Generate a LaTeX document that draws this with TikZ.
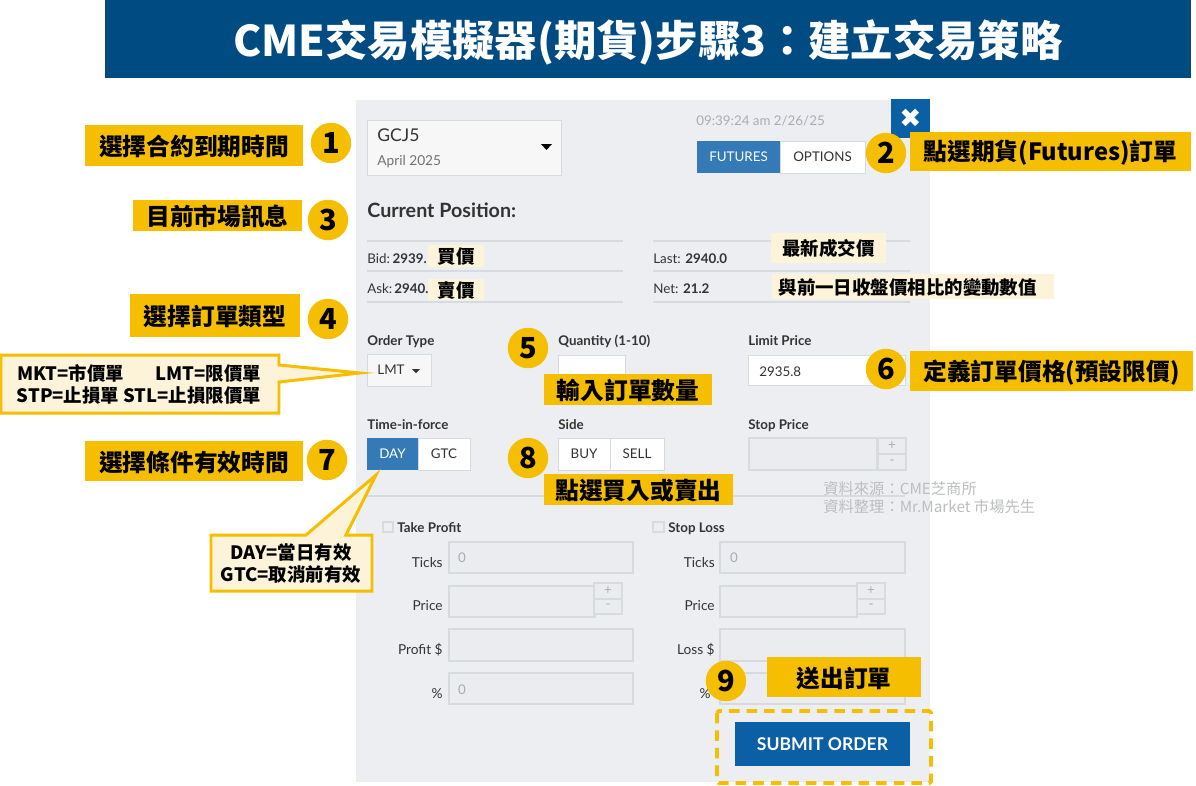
\documentclass[tikz,border=0pt]{standalone}
\usepackage{fontspec}
\setmainfont{Noto Sans CJK TC}
\newfontfamily\uifont{Lato}
\newfontfamily\symfont{DejaVu Sans}
\usepackage{tikz}
\definecolor{barblue}{HTML}{004B82}
\definecolor{panelgray}{HTML}{ECEEF1}
\definecolor{fieldgray}{HTML}{EAECEF}
\definecolor{tagyellow}{HTML}{F5BE00}
\definecolor{palecream}{HTML}{FDF3D9}
\definecolor{btnblue}{HTML}{337AB7}
\definecolor{submitblue}{HTML}{0B5FA5}
\definecolor{rulegray}{HTML}{D8DBDE}
\definecolor{uitext}{HTML}{333333}
\definecolor{mutetext}{HTML}{A9ADB2}
\definecolor{wmgray}{HTML}{BBBDBF}
\tikzset{
  tagtext/.style={font=\fontsize{13.5pt}{16pt}\selectfont\bfseries,text=black,inner sep=0pt,yshift=-0.8pt},
  paletext/.style={font=\fontsize{10.5pt}{12.5pt}\selectfont\bfseries,text=black,inner sep=0pt,yshift=-0.4pt},
  numcircle/.style={circle,fill=tagyellow,minimum size=23pt,inner sep=0pt,font=\fontsize{16.5pt}{18pt}\selectfont\bfseries,text=black},
  uilabel/.style={font=\uifont\fontsize{7.6pt}{9pt}\selectfont,text=uitext,inner sep=0pt,anchor=west,text height=7pt,text depth=1pt},
  uibold/.style={font=\uifont\bfseries\fontsize{7.6pt}{9pt}\selectfont,text=uitext,inner sep=0pt,anchor=west,text height=7pt,text depth=1pt},
  sidelabel/.style={font=\uifont\fontsize{7.8pt}{9pt}\selectfont,text=uitext,inner sep=0pt,anchor=east,text height=7pt,text depth=1pt},
  btntext/.style={font=\uifont\fontsize{7.6pt}{9pt}\selectfont,text=uitext,inner sep=0pt},
  btnwhite/.style={font=\uifont\fontsize{7.6pt}{9pt}\selectfont,text=white,inner sep=0pt},
  hintzero/.style={font=\uifont\fontsize{7.6pt}{9pt}\selectfont,text=mutetext,inner sep=0pt},
  whitebox/.style={fill=white,draw=rulegray,line width=0.5pt},
  inputbox/.style={fill=fieldgray,draw=rulegray,line width=0.6pt},
  calloutbox/.style={fill=palecream,draw=tagyellow,line width=1.7pt},
  hairline/.style={draw=rulegray,line width=0.6pt},
  watermark/.style={font=\fontsize{8.7pt}{10pt}\selectfont,text=wmgray,inner sep=0pt,anchor=west}
}

\begin{document}
\begin{tikzpicture}[x=0.02cm,y=-0.02cm]
\useasboundingbox (0,0) rectangle (1196,785);

%title
\fill[barblue] (105,0) rectangle node[font=\fontsize{24.1pt}{28pt}\selectfont\bfseries,text=white,inner sep=0pt,yshift=-2pt] (title) {CME交易模擬器(期貨)步驟3：建立交易策略} (1191,78);

%panel
\fill[panelgray] (356,100) rectangle (930,782);
\fill[submitblue] (891,99) rectangle node[text=white,inner sep=0pt,font=\symfont\fontsize{15pt}{16pt}\selectfont] (closex) {✖} (930,138);

%contract select
\draw[whitebox,fill=black!3] (367,120) rectangle (561,175);
\node[font=\uifont\fontsize{10pt}{12pt}\selectfont,text=uitext,inner sep=0pt,anchor=west] (contract) at (377,135) {GCJ5};
\node[font=\uifont\fontsize{7.8pt}{9pt}\selectfont,text=black!55,inner sep=0pt,anchor=west] (expiry) at (377,162) {April 2025};
\fill[black] (541,144) -- (552,144) -- (546.5,150) -- cycle;
\node[font=\uifont\fontsize{7.6pt}{9pt}\selectfont,text=mutetext,inner sep=0pt,anchor=west] (clock) at (696,121) {09:39:24 am 2/26/25};

%futures options
\draw[whitebox] (780,141) rectangle node[btntext] (options) {OPTIONS} (865,173);
\fill[btnblue] (697,141) rectangle node[btnwhite] (futures) {FUTURES} (780,173);

%position
\node[font=\uifont\bfseries\fontsize{11.2pt}{13pt}\selectfont,text=uitext,inner sep=0pt,anchor=west] (position) at (367,210) {Current Position:};
\draw[hairline] (367,241) -- (623,241);
\draw[hairline] (367,271) -- (623,271);
\draw[hairline] (367,302) -- (623,302);
\draw[hairline] (653,241) -- (910,241);
\draw[hairline] (653,271) -- (910,271);
\draw[hairline] (653,302) -- (910,302);
\node[uilabel] (bid) at (367,258) {Bid:\kern-0.4pt\ \textbf{2939.}};
\node[uilabel] (ask) at (367,288) {Ask:\kern-0.8pt\ \textbf{2940.}};
\node[uilabel] (last) at (653,258) {Last: \textbf{2940.0}};
\node[uilabel] (net) at (653,288) {Net: \textbf{21.2}};
\fill[palecream] (428,245) rectangle node[paletext] (bidnote) {買價} (484,267);
\fill[palecream] (428,279) rectangle node[paletext] (asknote) {賣價} (484,300);
\fill[palecream] (771,233) rectangle node[paletext] (lastnote) {最新成交價} (886,263);
\fill[palecream] (772,274) rectangle node[paletext,xshift=-3pt] (netnote) {與前一日收盤價相比的變動數值} (1054,299);

%order row
\node[uibold] (ordertype) at (367,340) {Order Type};
\node[uibold] (quantity) at (558,340) {Quantity (1-10)};
\node[uibold] (limitprice) at (748,340) {Limit Price};
\draw[whitebox,fill=black!3] (367,354) rectangle (431,386);
\node[btntext] (lmt) at (391,370) {LMT};
\fill[uitext] (412,369) -- (420,369) -- (416,373) -- cycle;
\draw[whitebox] (558,355) rectangle (625,385);
\draw[whitebox] (748,355) rectangle (905,385);
\node[uilabel] (limitvalue) at (759,371) {2935.8};

%time row
\node[uibold] (timeforce) at (367,424) {Time-in-force};
\node[uibold] (side) at (558,424) {Side};
\node[uibold] (stopprice) at (748,424) {Stop Price};
\draw[whitebox] (418,438) rectangle node[btntext] (gtc) {GTC} (470,470);
\fill[btnblue] (367,438) rectangle node[btnwhite] (day) {DAY} (418,470);
\draw[whitebox] (558,438) rectangle node[btntext] (buy) {BUY} (610,470);
\draw[whitebox] (610,438) rectangle node[btntext] (sell) {SELL} (664,470);
\draw[inputbox] (749,438) rectangle (877,470);
\draw[inputbox] (878,438) rectangle node[hintzero] (stopplus) {+} (906,454);
\draw[inputbox] (878,454) rectangle node[hintzero] (stopminus) {-} (906,470);
\draw[hairline] (367,496) -- (905,496);

%take profit
\draw[hairline,fill=panelgray] (383,522) rectangle (393,532);
\node[uibold] (takeprofit) at (397,527) {Take Profit};
\node[sidelabel] (ticksa) at (443,562) {Ticks};
\node[sidelabel] (pricea) at (443,605) {Price};
\node[sidelabel] (profit) at (443,649) {Profit \$};
\node[sidelabel] (pcta) at (443,693) {\%};
\draw[inputbox] (449,542) rectangle (633,573);
\draw[inputbox] (449,586) rectangle (595,617);
\draw[inputbox] (594,583) rectangle node[hintzero] (plusa) {+} (622,599);
\draw[inputbox] (594,599) rectangle node[hintzero] (minusa) {-} (622,614);
\draw[inputbox] (449,629) rectangle (633,661);
\draw[inputbox] (449,673) rectangle (633,704);
\node[hintzero] (zeroa) at (462,558) {0};
\node[hintzero] (zerob) at (462,690) {0};

%stop loss
\draw[hairline,fill=panelgray] (653,522) rectangle (664,532);
\node[uibold] (stoploss) at (668,527) {Stop Loss};
\node[sidelabel] (ticksb) at (715,562) {Ticks};
\node[sidelabel] (priceb) at (715,605) {Price};
\node[sidelabel] (loss) at (715,649) {Loss \$};
\node[sidelabel] (pctb) at (711,693) {\%};
\draw[inputbox] (720,542) rectangle (905,573);
\draw[inputbox] (720,586) rectangle (857,617);
\draw[inputbox] (857,583) rectangle node[hintzero] (plusb) {+} (885,599);
\draw[inputbox] (857,599) rectangle node[hintzero] (minusb) {-} (885,614);
\draw[inputbox] (720,629) rectangle (905,661);
\draw[inputbox] (720,673) rectangle (905,704);
\node[hintzero] (zeroc) at (734,558) {0};

%source
\node[watermark] (sourcea) at (823,489) {資料來源：CME芝商所};
\node[watermark] (sourceb) at (823,507) {資料整理：Mr.Market 市場先生};

%submit
\fill[submitblue] (735,722) rectangle node[font=\uifont\bfseries\fontsize{10pt}{12pt}\selectfont,text=white,inner sep=0pt] (submit) {SUBMIT ORDER} (910,766);
\draw[tagyellow,line width=2.2pt,dash pattern=on 6pt off 4pt,rounded corners=1pt] (717,711) rectangle (931,783);

%callouts
\fill[tagyellow] (85,125) rectangle node[tagtext] (tagexpiry) {選擇合約到期時間} (303,166);
\fill[tagyellow] (910,132) rectangle node[tagtext] (tagfutures) {點選期貨(Futures)訂單} (1191,171);
\fill[tagyellow] (133,200) rectangle node[tagtext] (tagmarket) {目前市場訊息} (302,231);
\fill[tagyellow] (130,294) rectangle node[tagtext] (tagorder) {選擇訂單類型} (300,337);
\fill[tagyellow] (544,374) rectangle node[tagtext] (tagqty) {輸入訂單數量} (712,405);
\fill[tagyellow] (910,351) rectangle node[tagtext] (tagprice) {定義訂單價格(預設限價)} (1193,391);
\fill[tagyellow] (85,441) rectangle node[tagtext] (tagtime) {選擇條件有效時間} (303,481);
\fill[tagyellow] (544,474) rectangle node[tagtext] (tagside) {點選買入或賣出} (733,505);
\fill[tagyellow] (767,657) rectangle node[tagtext] (tagsubmit) {送出訂單} (921,697);

\node[numcircle] (numa) at (331,143) {1};
\node[numcircle] (numb) at (886,153) {2};
\node[numcircle] (numc) at (328,220) {3};
\node[numcircle] (numd) at (328,319) {4};
\node[numcircle] (nume) at (528,348) {5};
\node[numcircle] (numf) at (886,369) {6};
\node[numcircle] (numg) at (327,460) {7};
\node[numcircle] (numh) at (528,458) {8};
\node[numcircle] (numi) at (726,681) {9};

%speech boxes
\draw[calloutbox] (1,355) -- (279,355) -- (279,365) -- (360,373) -- (279,382) -- (279,413) -- (1,413) -- cycle;
\node[paletext] (typesa) at (139,373) {MKT=市價單\hspace{1.7em}LMT=限價單};
\node[paletext] (typesb) at (139,395) {STP=止損單 STL=止損限價單};
\draw[calloutbox] (211,535) -- (306,535) -- (376,475) -- (346,535) -- (372,535) -- (372,591) -- (211,591) -- cycle;
\node[paletext] (tifa) at (291,552) {DAY=當日有效};
\node[paletext] (tifb) at (291,574) {GTC=取消前有效};

\end{tikzpicture}
\end{document}
